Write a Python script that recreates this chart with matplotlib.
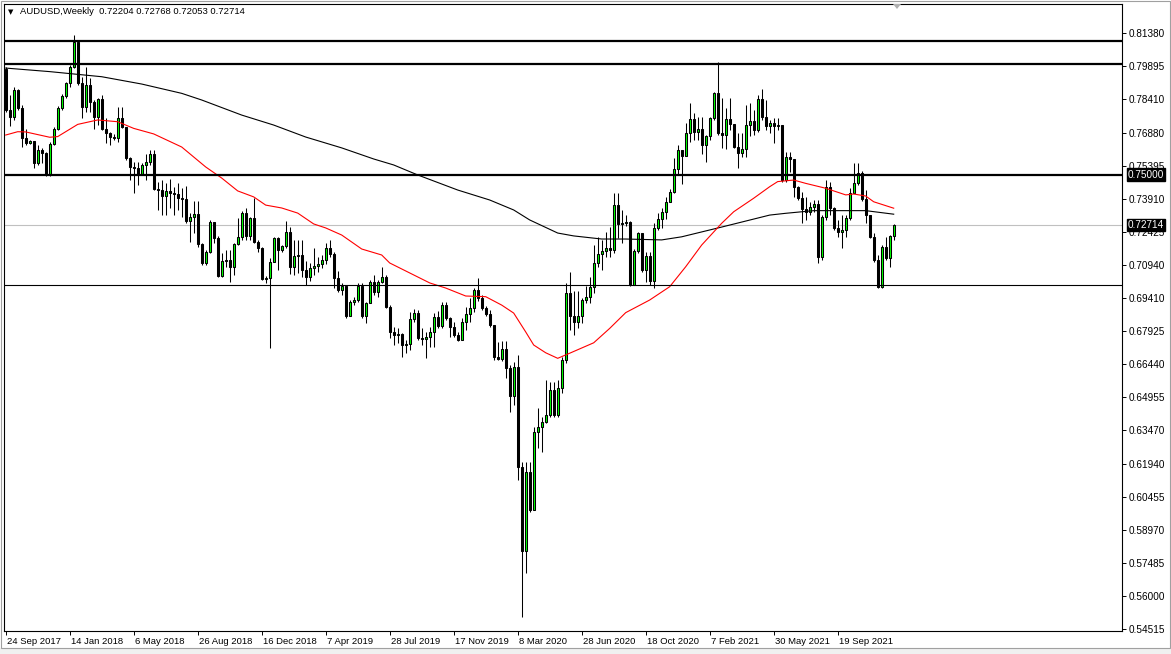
import numpy as np
import pandas as pd
import matplotlib
matplotlib.use("Agg")
import matplotlib.pyplot as plt
from matplotlib.patches import Rectangle, Polygon

plt.rcParams['font.family'] = ['Liberation Sans', 'DejaVu Sans']

# weekly AUDUSD candles (open of each week = previous close)
symbol = "AUDUSD,Weekly"
first_date = "2017-09-24"
first_open = 0.7976

closes = [
    0.7791, 0.7759, 0.7881, 0.7800, 0.7665, 0.7642, 0.7651, 0.7552, 0.7610, 0.7597,
    0.7502, 0.7638, 0.7705, 0.7800, 0.7854, 0.7913, 0.7985, 0.8098, 0.7913, 0.7804,
    0.7904, 0.7827, 0.7759, 0.7841, 0.7705, 0.7687, 0.7669, 0.7665, 0.7755, 0.7714,
    0.7574, 0.7534, 0.7529, 0.7502, 0.7543, 0.7556, 0.7592, 0.7435, 0.7430, 0.7403,
    0.7426, 0.7417, 0.7412, 0.7394, 0.7390, 0.7290, 0.7308, 0.7322, 0.7187, 0.7101,
    0.7150, 0.7286, 0.7214, 0.7042, 0.7110, 0.7114, 0.7083, 0.7187, 0.7218, 0.7326,
    0.7223, 0.7304, 0.7196, 0.7169, 0.7029, 0.7033, 0.7105, 0.7214, 0.7159, 0.7178,
    0.7241, 0.7083, 0.7132, 0.7137, 0.7069, 0.7038, 0.7078, 0.7087, 0.7096, 0.7114,
    0.7169, 0.7141, 0.7033, 0.6979, 0.6997, 0.6862, 0.6925, 0.6934, 0.6997, 0.6862,
    0.6920, 0.7015, 0.6970, 0.7015, 0.7038, 0.6902, 0.6790, 0.6776, 0.6781, 0.6731,
    0.6736, 0.6848, 0.6875, 0.6763, 0.6758, 0.6767, 0.6790, 0.6857, 0.6817, 0.6911,
    0.6853, 0.6812, 0.6776, 0.6754, 0.6835, 0.6871, 0.6898, 0.6979, 0.6943, 0.6898,
    0.6871, 0.6821, 0.6677, 0.6668, 0.6713, 0.6627, 0.6501, 0.6632, 0.6181, 0.5802,
    0.6158, 0.5987, 0.6339, 0.6361, 0.6384, 0.6415, 0.6528, 0.6415, 0.6537, 0.6663,
    0.6966, 0.6862, 0.6835, 0.6862, 0.6934, 0.6948, 0.6993, 0.7101, 0.7141, 0.7155,
    0.7169, 0.7159, 0.7362, 0.7277, 0.7281, 0.7286, 0.7002, 0.7155, 0.7236, 0.7069,
    0.7132, 0.7020, 0.7259, 0.7299, 0.7331, 0.7376, 0.7421, 0.7525, 0.7610, 0.7583,
    0.7687, 0.7750, 0.7692, 0.7705, 0.7633, 0.7674, 0.7755, 0.7868, 0.7687, 0.7678,
    0.7750, 0.7728, 0.7624, 0.7597, 0.7615, 0.7723, 0.7741, 0.7701, 0.7841, 0.7759,
    0.7719, 0.7732, 0.7719, 0.7723, 0.7475, 0.7579, 0.7570, 0.7444, 0.7394, 0.7344,
    0.7331, 0.7353, 0.7367, 0.7128, 0.7308, 0.7444, 0.7349, 0.7259, 0.7241, 0.7250,
    0.7304, 0.7417, 0.7462, 0.7507, 0.7390, 0.7317, 0.7218, 0.7114, 0.6993, 0.7173,
    0.7123, 0.72204, 0.72714,
]

highs = [
    0.7985, 0.7859, 0.7895, 0.7886, 0.7813, 0.7705, 0.7656, 0.7651, 0.7633, 0.7619,
    0.7601, 0.7647, 0.7714, 0.7809, 0.7863, 0.7917, 0.7994, 0.8129, 0.8107, 0.7940,
    0.7985, 0.7935, 0.7836, 0.7845, 0.7859, 0.7755, 0.7692, 0.7683, 0.7804, 0.7804,
    0.7678, 0.7579, 0.7556, 0.7556, 0.7552, 0.7592, 0.7610, 0.7610, 0.7466, 0.7475,
    0.7462, 0.7480, 0.7444, 0.7462, 0.7439, 0.7448, 0.7326, 0.7381, 0.7381, 0.7191,
    0.7159, 0.7295, 0.7268, 0.7223, 0.7146, 0.7159, 0.7159, 0.7191, 0.7304, 0.7335,
    0.7349, 0.7308, 0.7394, 0.7205, 0.7173, 0.7042, 0.7123, 0.7218, 0.7218, 0.7182,
    0.7290, 0.7263, 0.7205, 0.7205, 0.7205, 0.7110, 0.7101, 0.7169, 0.7128, 0.7137,
    0.7191, 0.7205, 0.7150, 0.7065, 0.7011, 0.7002, 0.6934, 0.6948, 0.7011, 0.7011,
    0.6925, 0.7024, 0.7047, 0.7024, 0.7083, 0.7047, 0.6911, 0.6812, 0.6808, 0.6785,
    0.6754, 0.6880, 0.6893, 0.6889, 0.6808, 0.6790, 0.6812, 0.6875, 0.6884, 0.6925,
    0.6925, 0.6857, 0.6835, 0.6790, 0.6853, 0.6902, 0.6943, 0.6988, 0.7033, 0.6957,
    0.6907, 0.6889, 0.6812, 0.6745, 0.6749, 0.6749, 0.6640, 0.6654, 0.6686, 0.6203,
    0.6203, 0.6203, 0.6361, 0.6447, 0.6406, 0.6573, 0.6564, 0.6564, 0.6573, 0.6677,
    0.7011, 0.7060, 0.6975, 0.6975, 0.6943, 0.6997, 0.7038, 0.7182, 0.7218, 0.7205,
    0.7241, 0.7263, 0.7417, 0.7417, 0.7340, 0.7317, 0.7290, 0.7164, 0.7241, 0.7223,
    0.7150, 0.7150, 0.7281, 0.7326, 0.7349, 0.7399, 0.7435, 0.7574, 0.7633, 0.7601,
    0.7732, 0.7822, 0.7777, 0.7759, 0.7759, 0.7678, 0.7759, 0.7872, 0.8007, 0.7845,
    0.7800, 0.7845, 0.7723, 0.7687, 0.7687, 0.7813, 0.7822, 0.7791, 0.7859, 0.7886,
    0.7836, 0.7746, 0.7755, 0.7755, 0.7719, 0.7601, 0.7601, 0.7565, 0.7448, 0.7421,
    0.7399, 0.7376, 0.7385, 0.7385, 0.7317, 0.7475, 0.7466, 0.7353, 0.7295, 0.7317,
    0.7317, 0.7439, 0.7552, 0.7552, 0.7516, 0.7430, 0.7317, 0.7236, 0.7137, 0.7182,
    0.7218, 0.7227, 0.72768,
]

lows = [
    0.7782, 0.7719, 0.7746, 0.7791, 0.7624, 0.7633, 0.7638, 0.7529, 0.7543, 0.7552,
    0.7493, 0.7493, 0.7633, 0.7701, 0.7791, 0.7845, 0.7895, 0.7980, 0.7904, 0.7755,
    0.7782, 0.7782, 0.7705, 0.7723, 0.7701, 0.7642, 0.7633, 0.7656, 0.7647, 0.7710,
    0.7565, 0.7475, 0.7417, 0.7453, 0.7502, 0.7475, 0.7543, 0.7430, 0.7340, 0.7317,
    0.7317, 0.7349, 0.7317, 0.7340, 0.7308, 0.7281, 0.7196, 0.7236, 0.7173, 0.7092,
    0.7092, 0.7146, 0.7191, 0.7038, 0.7038, 0.7083, 0.7015, 0.7047, 0.7182, 0.7205,
    0.7205, 0.7205, 0.7191, 0.7150, 0.7024, 0.7011, 0.6718, 0.7105, 0.7069, 0.7150,
    0.7169, 0.7051, 0.7047, 0.7056, 0.7038, 0.7002, 0.7020, 0.7047, 0.7060, 0.7078,
    0.7096, 0.7128, 0.6988, 0.6970, 0.6957, 0.6853, 0.6862, 0.6911, 0.6925, 0.6853,
    0.6830, 0.6920, 0.6957, 0.6948, 0.7011, 0.6898, 0.6763, 0.6731, 0.6740, 0.6677,
    0.6695, 0.6708, 0.6835, 0.6754, 0.6731, 0.6672, 0.6722, 0.6722, 0.6808, 0.6808,
    0.6844, 0.6767, 0.6767, 0.6749, 0.6754, 0.6799, 0.6835, 0.6880, 0.6929, 0.6889,
    0.6862, 0.6812, 0.6663, 0.6663, 0.6659, 0.6582, 0.6429, 0.6460, 0.6122, 0.5504,
    0.5703, 0.5978, 0.5996, 0.6267, 0.6248, 0.6379, 0.6406, 0.6406, 0.6406, 0.6515,
    0.6650, 0.6799, 0.6776, 0.6808, 0.6830, 0.6920, 0.6920, 0.6966, 0.7083, 0.7069,
    0.7128, 0.7128, 0.7146, 0.7214, 0.7191, 0.7268, 0.6997, 0.7015, 0.7146, 0.7060,
    0.7015, 0.7002, 0.6988, 0.7250, 0.7259, 0.7299, 0.7376, 0.7417, 0.7498, 0.7457,
    0.7597, 0.7647, 0.7656, 0.7656, 0.7592, 0.7556, 0.7656, 0.7746, 0.7678, 0.7619,
    0.7615, 0.7701, 0.7619, 0.7529, 0.7579, 0.7579, 0.7674, 0.7678, 0.7692, 0.7746,
    0.7701, 0.7687, 0.7642, 0.7701, 0.7466, 0.7466, 0.7511, 0.7399, 0.7385, 0.7281,
    0.7295, 0.7317, 0.7331, 0.7101, 0.7114, 0.7295, 0.7317, 0.7250, 0.7218, 0.7169,
    0.7218, 0.7295, 0.7417, 0.7453, 0.7381, 0.7281, 0.7214, 0.7105, 0.6988, 0.6988,
    0.7114, 0.7083, 0.72053,
]

# moving averages (red = fast, black = slow), sampled along the lines
ma_fast_idx = [0, 3, 5, 11, 13, 18, 23, 28, 32, 37, 44, 50, 54, 58, 62, 65, 69, 73,
               77, 80, 84, 89, 94, 96, 101, 106, 110, 115, 120, 124, 127, 130, 132,
               135, 138, 141, 147, 151, 155, 161, 166, 170, 174, 179, 182, 187, 191,
               193, 197, 200, 205, 210, 212, 215, 217, 222]
ma_fast_val = [0.7678, 0.7693, 0.7692, 0.7668, 0.7671, 0.7726, 0.7746, 0.7738, 0.7708,
               0.7683, 0.7624, 0.7534, 0.7484, 0.7426, 0.7399, 0.7362, 0.7349, 0.7326,
               0.7277, 0.7259, 0.7227, 0.7164, 0.7137, 0.7101, 0.7056, 0.7011, 0.6988,
               0.6952, 0.6949, 0.6911, 0.6875, 0.6790, 0.6731, 0.6696, 0.6671, 0.6694,
               0.6741, 0.6806, 0.6877, 0.6934, 0.6994, 0.7084, 0.7182, 0.7280, 0.7332,
               0.7393, 0.7445, 0.7468, 0.7475, 0.7460, 0.7438, 0.7408, 0.7412, 0.7403,
               0.7377, 0.7348]
ma_slow_idx = [0, 11, 24, 34, 44, 49, 59, 67, 75, 84, 92, 97, 103, 113, 121, 127, 131,
               138, 142, 149, 155, 164, 169, 179, 191, 195, 202, 215, 222]
ma_slow_val = [0.7980, 0.7964, 0.7941, 0.7908, 0.7866, 0.7836, 0.7768, 0.7723, 0.7669,
               0.7620, 0.7570, 0.7543, 0.7498, 0.7430, 0.7385, 0.7340, 0.7295, 0.7236,
               0.7223, 0.7209, 0.7209, 0.7205, 0.7219, 0.7263, 0.7317, 0.7325, 0.7337,
               0.7337, 0.7321]

levels_thick = [0.81, 0.80, 0.75]
level_thin = 0.70
boxed_level = 0.75
price_ticks = [0.81380, 0.79895, 0.78410, 0.76880, 0.75395, 0.73910, 0.72425, 0.70940,
               0.69410, 0.67925, 0.66440, 0.64955, 0.63470, 0.61940, 0.60455, 0.58970,
               0.57485, 0.56000, 0.54515]
label_every = 16

closes = np.array(closes)
opens = np.concatenate([[first_open], closes[:-1]])
opens[-1] = 0.72204
highs = np.maximum(np.array(highs), np.maximum(opens, closes))
lows = np.minimum(np.array(lows), np.minimum(opens, closes))
n = len(closes)
x = np.arange(n)
dates = pd.date_range(first_date, periods=n, freq="7D")

W, H = 1171, 654
fig = plt.figure(figsize=(W / 100, H / 100), dpi=100)
fig.patch.set_facecolor("white")
ax = fig.add_axes([4 / W, 23 / H, 1118 / W, 627 / H])
ax.set_xlim(-0.425, 279.075)
ax.set_ylim(0.544119, 0.826896)

# bid line
ax.axhline(closes[-1], color="#c0c0c0", lw=0.8, zorder=1)

# candles
ax.vlines(x, lows, highs, color="black", lw=0.75, zorder=2)
up = closes >= opens
body_bottom = np.minimum(opens, closes)
body_height = np.abs(closes - opens)
ax.bar(x[up], body_height[up], bottom=body_bottom[up], width=0.55,
       color="#00ff00", edgecolor="black", linewidth=0.75, zorder=3)
ax.bar(x[~up], body_height[~up], bottom=body_bottom[~up], width=0.55,
       color="black", edgecolor="black", linewidth=0.75, zorder=3)

# moving averages
ax.plot(ma_slow_idx, ma_slow_val, color="black", lw=0.8, zorder=4)
ax.plot(ma_fast_idx, ma_fast_val, color="red", lw=0.8, zorder=4)

# horizontal levels
for lv in levels_thick:
    ax.axhline(lv, color="black", lw=1.6, zorder=5)
ax.axhline(level_thin, color="black", lw=0.8, zorder=5)

# price axis on the right
ax.yaxis.tick_right()
ax.set_yticks(price_ticks)
ax.set_yticklabels([f"{v:.5f}" for v in price_ticks])
ax.tick_params(axis="y", direction="out", length=3, width=0.7, pad=2,
               labelsize=7.2, colors="black")

# date axis
tick_idx = x[::label_every]
ax.set_xticks(tick_idx)
ax.set_xticklabels([])
ax.tick_params(axis="x", direction="out", length=3, width=0.7)
for i in tick_idx:
    d = dates[i]
    ax.annotate(f"{d.day} {d.strftime('%b %Y')}", xy=(i, 0),
                xycoords=("data", "axes fraction"), xytext=(0.6, -7.5),
                textcoords="offset points", ha="left", va="center",
                fontsize=6.8, color="black", annotation_clip=False)

for s in ax.spines.values():
    s.set_linewidth(0.8)
    s.set_color("black")

# boxed price labels
for val in [boxed_level, closes[-1]]:
    ax.annotate(f"{val:.5f}", xy=(1, val), xycoords=("axes fraction", "data"),
                xytext=(4.2, 0), textcoords="offset points", ha="left",
                va="center", fontsize=7.2, color="white", zorder=10,
                annotation_clip=False,
                bbox=dict(boxstyle="square,pad=0.12", fc="black", ec="black"))

# header
fig.text(8 / W, 1 - 12 / H, "\u25bc", fontsize=5, va="center",
         family=["DejaVu Sans"])
fig.text(20 / W, 1 - 12 / H,
         f"{symbol}  {opens[-1]:.5f} {highs[-1]:.5f} {lows[-1]:.5f} {closes[-1]:.5f}",
         fontsize=6.8, va="center", color="black")

# chart-shift marker at the top
tri = Polygon([[893 / W, 1 - 4 / H], [901 / W, 1 - 4 / H], [897 / W, 1 - 9 / H]],
              closed=True, transform=fig.transFigure, fc="#b0b0b0", ec="none")
fig.patches.append(tri)

# window bottom strip and frame
fig.patches.append(Rectangle((0, 0), 1, 6 / H, transform=fig.transFigure,
                             fc="#f0f0f0", ec="none"))
fig.patches.append(Rectangle((0.5 / W, 6 / H), 1 - 1.5 / W, 1 - 6.5 / H,
                             transform=fig.transFigure, fill=False,
                             ec="#a0a0a0", lw=0.8))

fig.savefig("out.png", dpi=100)
